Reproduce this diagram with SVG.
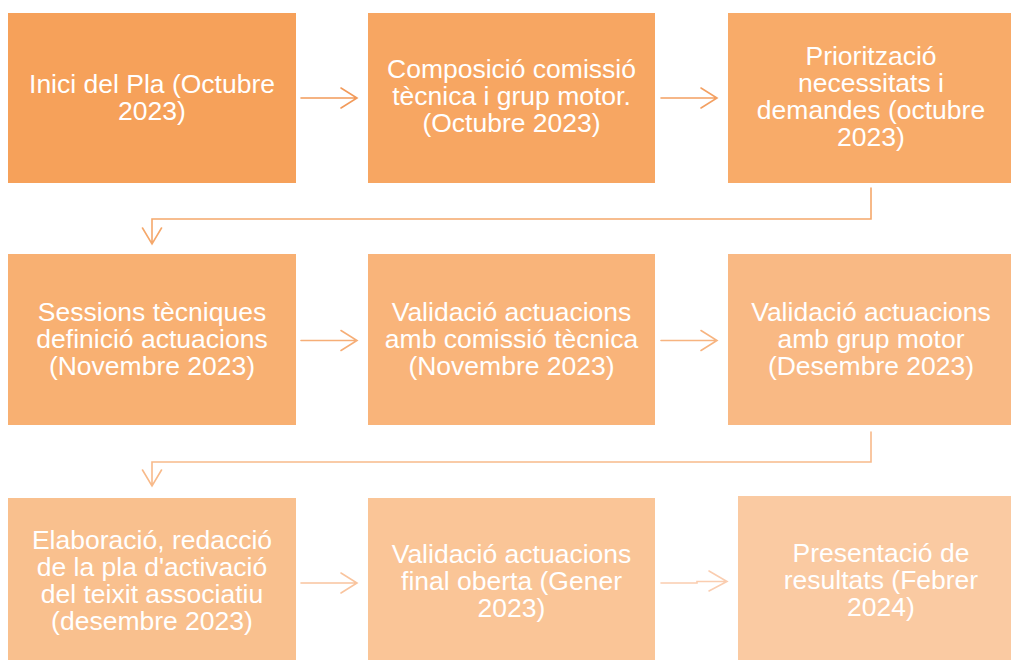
<svg xmlns="http://www.w3.org/2000/svg" width="1011" height="660" viewBox="0 0 1011 660">
<style>
.t{font-family:"Liberation Sans",Arial,sans-serif;font-size:26.5px;fill:#ffffff;text-anchor:middle}
.c{fill:none;stroke-width:1.6;stroke-linecap:round;stroke-linejoin:miter}
</style>
<rect width="1011" height="660" fill="#ffffff"/>
<g id="n1"><rect x="8" y="13" width="288" height="170" fill="#F6A15A"/>
<text class="t"><tspan x="152" y="93">Inici del Pla (Octubre</tspan><tspan x="152" y="120">2023)</tspan></text></g>
<g id="n2"><rect x="368" y="13" width="287" height="170" fill="#F7A662"/>
<text class="t"><tspan x="511.5" y="78">Composició comissió</tspan><tspan x="511.5" y="105">tècnica i grup motor.</tspan><tspan x="511.5" y="132">(Octubre 2023)</tspan></text></g>
<g id="n3"><rect x="728" y="13" width="287" height="170" fill="#F8AB69"/>
<text class="t"><tspan x="871" y="65">Priorització</tspan><tspan x="871" y="92">necessitats i</tspan><tspan x="871" y="119">demandes (octubre</tspan><tspan x="871" y="146">2023)</tspan></text></g>
<g id="n4"><rect x="8" y="254" width="288" height="171" fill="#F8B072"/>
<text class="t"><tspan x="152" y="321">Sessions tècniques</tspan><tspan x="152" y="348">definició actuacions</tspan><tspan x="152" y="375">(Novembre 2023)</tspan></text></g>
<g id="n5"><rect x="368" y="254" width="287" height="171" fill="#F9B47A"/>
<text class="t"><tspan x="511.5" y="321">Validació actuacions</tspan><tspan x="511.5" y="348">amb comissió tècnica</tspan><tspan x="511.5" y="375">(Novembre 2023)</tspan></text></g>
<g id="n6"><rect x="728" y="254" width="287" height="171" fill="#F9B984"/>
<text class="t"><tspan x="871" y="321">Validació actuacions</tspan><tspan x="871" y="348">amb grup motor</tspan><tspan x="871" y="375">(Desembre 2023)</tspan></text></g>
<g id="n7"><rect x="8" y="498" width="288" height="170" fill="#F9C08E"/>
<text class="t"><tspan x="152" y="549">Elaboració, redacció</tspan><tspan x="152" y="576">de la pla d'activació</tspan><tspan x="152" y="603">del teixit associatiu</tspan><tspan x="152" y="630">(desembre 2023)</tspan></text></g>
<g id="n8"><rect x="368" y="498" width="287" height="170" fill="#FAC597"/>
<text class="t"><tspan x="511.5" y="563">Validació actuacions</tspan><tspan x="511.5" y="590">final oberta (Gener</tspan><tspan x="511.5" y="617">2023)</tspan></text></g>
<g id="n9"><rect x="738" y="496" width="290" height="172" fill="#FACAA2"/>
<text class="t"><tspan x="881" y="562">Presentació de</tspan><tspan x="881" y="589">resultats (Febrer</tspan><tspan x="881" y="616">2024)</tspan></text></g>
<g id="connectors">
<path class="c" stroke="#F29A5A" d="M301 98H357M341 88L357 98L341 108"/>
<path class="c" stroke="#F3A062" d="M661 98H717M701 88L717 98L701 108"/>
<path class="c" stroke="#F5A86B" d="M871 188V219H152V244M142.5 228L152 244L161.5 228"/>
<path class="c" stroke="#F6AE77" d="M301 340.5H357M341 330.5L357 340.5L341 350.5"/>
<path class="c" stroke="#F7B480" d="M661 340.5H717M701 330.5L717 340.5L701 350.5"/>
<path class="c" stroke="#F8BA8A" d="M871 432V462H152V486M142.5 470L152 486L161.5 470"/>
<path class="c" stroke="#F9C49E" d="M301 583H357M341 573L357 583L341 593"/>
<path class="c" stroke="#FACDB0" d="M661 583H697V581.5H727M709 571L727 581.5L709 591"/>
</g>
</svg>
